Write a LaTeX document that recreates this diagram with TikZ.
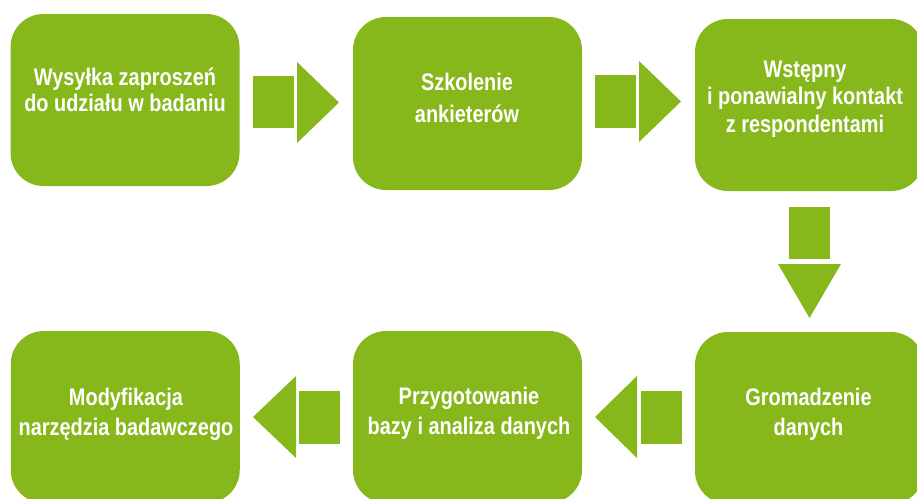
\documentclass[tikz,border=0pt]{standalone}
\usepackage{fontspec}
\setmainfont{Liberation Sans}[FakeStretch=0.83]
\definecolor{leaf}{HTML}{86B81B}
\tikzset{
  box/.style={fill=leaf, draw=none, rounded corners=33pt, inner sep=0pt},
  txt/.style={text=white, align=center, inner sep=0pt, font=\bfseries\fontsize{24}{26}\selectfont},
  arr/.style={fill=leaf, draw=none}
}
\begin{document}
\begin{tikzpicture}[x=1pt,y=-1pt]
\useasboundingbox (0,0) rectangle (917,498);
% boxes
\node[box, minimum width=229pt, minimum height=172pt] (b1) at (125,100) {};
\node[box, minimum width=229pt, minimum height=173pt] (b2) at (467.5,103.5) {};
\node[box, minimum width=229pt, minimum height=172pt] (b3) at (809.5,105) {};
\node[box, minimum width=229pt, minimum height=172pt] (b4) at (809.5,418) {};
\node[box, minimum width=229pt, minimum height=172pt] (b5) at (467.5,417) {};
\node[box, minimum width=229pt, minimum height=172pt] (b6) at (125.25,417) {};
% texts (base = baseline of last line)
\node[txt, anchor=base] (t1) at (125,111) {Wysyłka zaproszeń\\do udziału w badaniu};
\node[txt, anchor=base, font=\bfseries\fontsize{24}{32}\selectfont] (t2) at (467,122) {Szkolenie\\ankieterów};
\node[txt, anchor=base, font=\bfseries\fontsize{24}{27.5}\selectfont] (t3) at (805,132) {Wstępny\\i ponawialny kontakt\\z respondentami};
\node[txt, anchor=base, font=\bfseries\fontsize{24}{30}\selectfont] (t4) at (808.5,435) {Gromadzenie\\danych};
\node[txt, anchor=base, font=\bfseries\fontsize{24}{30}\selectfont] (t5) at (469,434) {Przygotowanie\\bazy i analiza danych};
\node[txt, anchor=base, font=\bfseries\fontsize{24}{30}\selectfont] (t6) at (126,435) {Modyfikacja\\narzędzia badawczego};
% arrows b1 -> b2
\fill[arr] (253,76) rectangle (294,128);
\fill[arr] (297,62) -- (339,102.5) -- (297,143) -- cycle;
% b2 -> b3
\fill[arr] (595,75) rectangle (636,128);
\fill[arr] (639,61) -- (681,101.5) -- (639,142) -- cycle;
% b3 -> b4
\fill[arr] (789,207) rectangle (830,259);
\fill[arr] (778,264) -- (841,264) -- (809.5,318) -- cycle;
% b4 -> b5
\fill[arr] (641,391) rectangle (682,444);
\fill[arr] (637,376) -- (595,417) -- (637,458) -- cycle;
% b5 -> b6
\fill[arr] (299,391) rectangle (340,444);
\fill[arr] (296,376) -- (253,417) -- (296,458) -- cycle;
\end{tikzpicture}
\end{document}
